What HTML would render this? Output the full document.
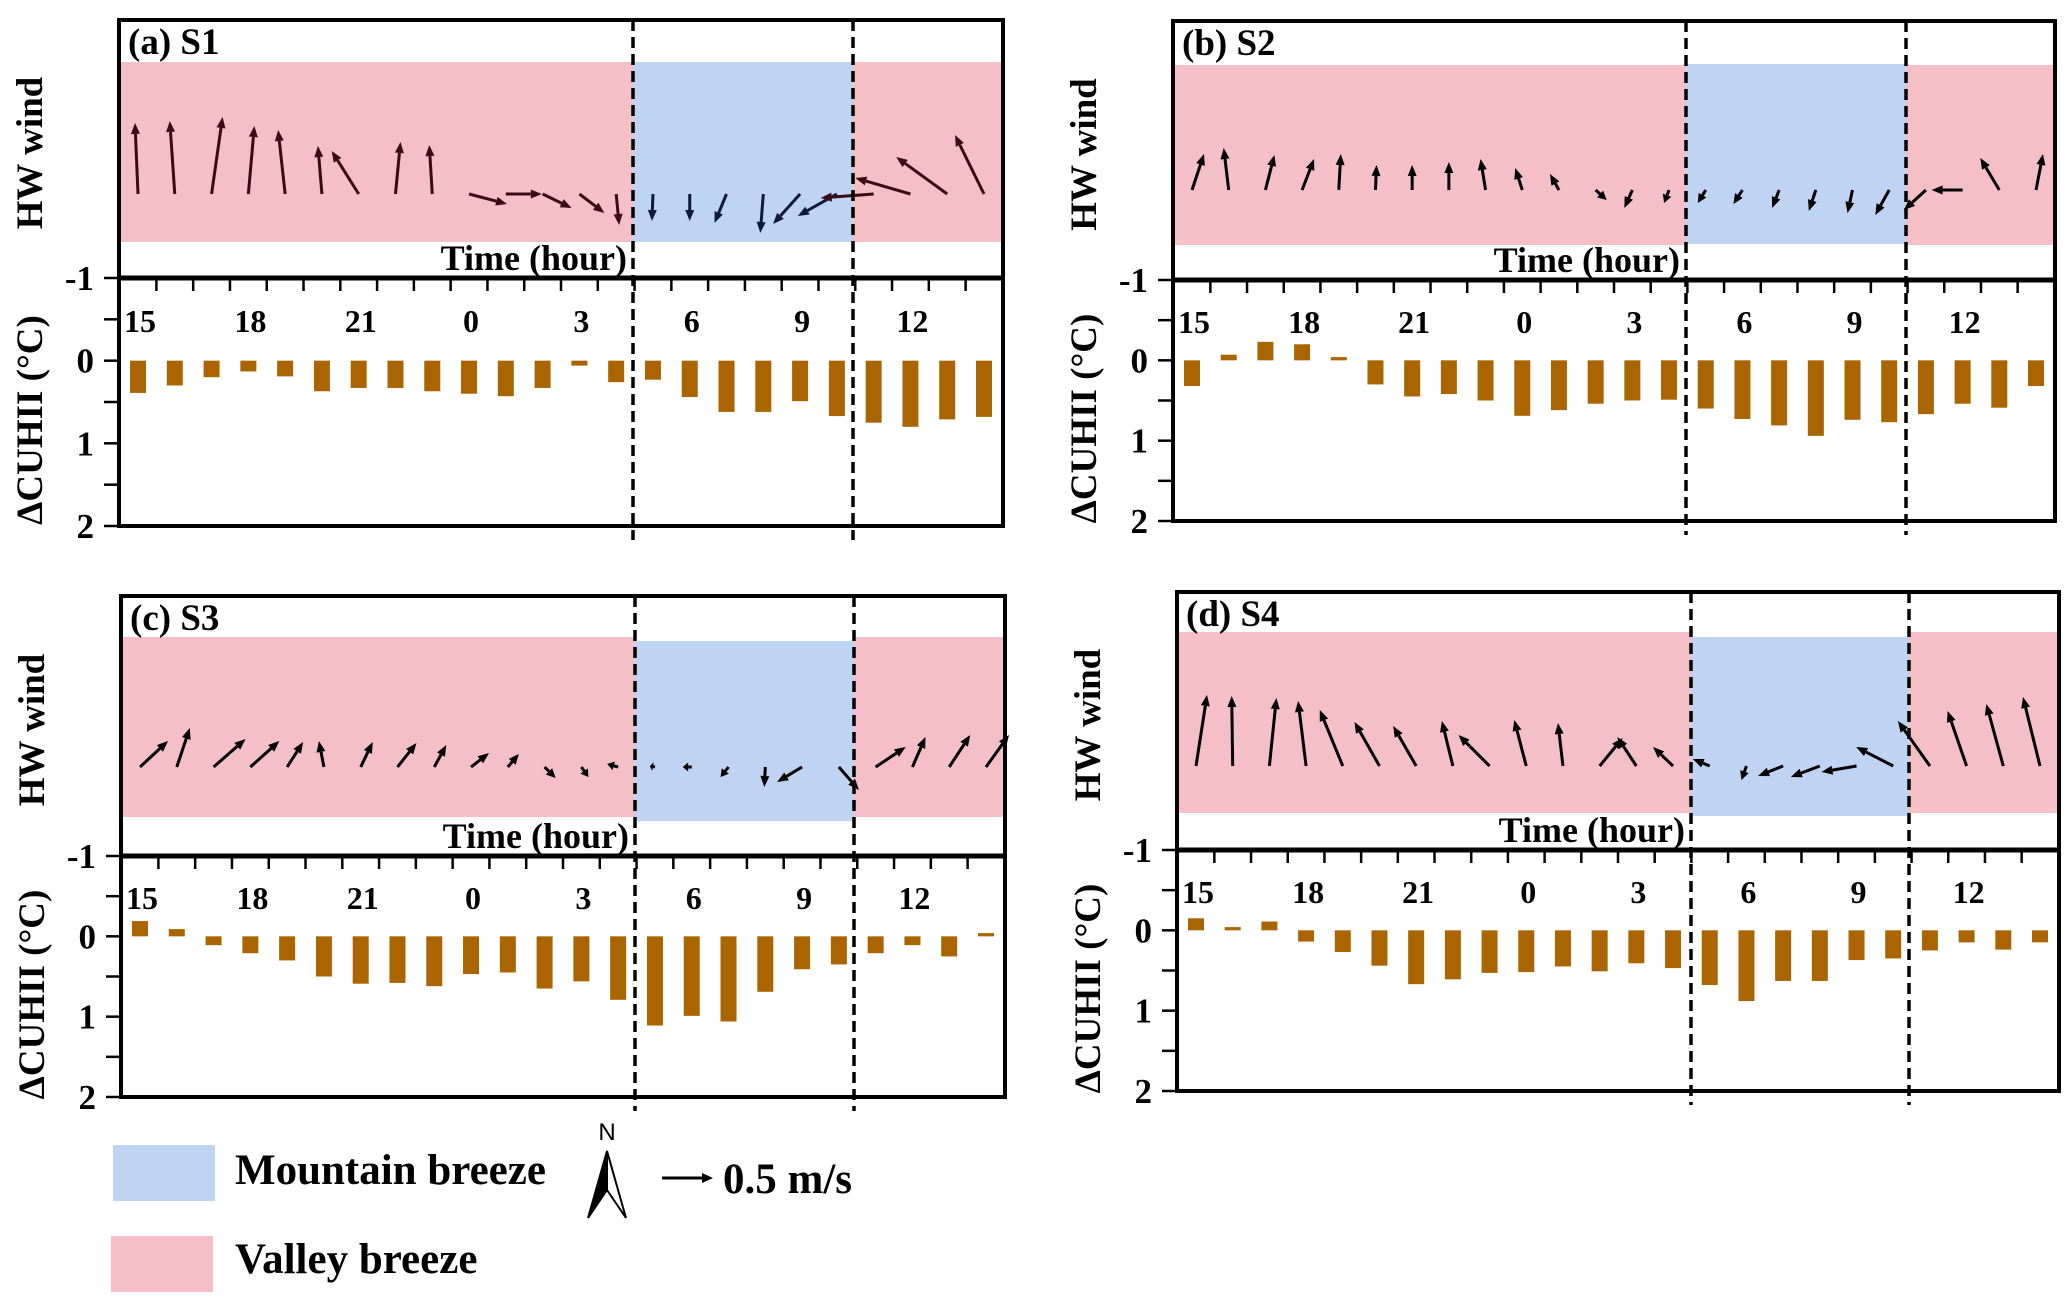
<!DOCTYPE html>
<html><head><meta charset="utf-8"><style>
html,body{margin:0;padding:0;background:#fff;}
svg text{font-family:"Liberation Serif",serif;font-weight:bold;fill:#000;}
</style></head><body>
<svg id="fig" width="2067" height="1302" viewBox="0 0 2067 1302" xmlns="http://www.w3.org/2000/svg">
<g id="panels"></g>
<g id="legend">
  <rect x="113" y="1145" width="102" height="56" fill="#bfd4f2"/>
  <text x="235" y="1184" font-size="43">Mountain breeze</text>
  <rect x="111" y="1236" width="102" height="56" fill="#f4bfc7"/>
  <text x="235" y="1273" font-size="43">Valley breeze</text>
  <g>
    <text x="607" y="1140" font-size="24" text-anchor="middle" style="font-family:'Liberation Sans',sans-serif;font-weight:normal">N</text>
    <polygon points="607,1151 588,1218 607,1190" fill="#000" stroke="#000" stroke-width="2"/>
    <polygon points="607,1151 626,1218 607,1190" fill="#fff" stroke="#000" stroke-width="2"/>
  </g>
  <g>
    <line x1="662" y1="1178" x2="704" y2="1178" stroke="#000" stroke-width="3"/>
    <polygon points="713,1178 702,1173 702,1183" fill="#000"/>
  </g>
  <text x="723" y="1193" font-size="43">0.5 m/s</text>
</g>
</svg>
<script>
const hours = [15,16,17,18,19,20,21,22,23,0,1,2,3,4,5,6,7,8,9,10,11,12,13,14];
const tickLabels = ["15","18","21","0","3","6","9","12"];
const cuhiiS1 = [0.39,0.30,0.20,0.13,0.19,0.37,0.33,0.33,0.37,0.40,0.43,0.33,0.06,0.26,0.23,0.44,0.62,0.62,0.49,0.67,0.75,0.80,0.71,0.68];
const cuhiiS2 = [0.32,-0.07,-0.23,-0.20,-0.04,0.30,0.45,0.42,0.50,0.69,0.62,0.54,0.50,0.49,0.60,0.73,0.81,0.94,0.74,0.77,0.67,0.54,0.59,0.32];
const cuhiiS3 = [-0.19,-0.09,0.11,0.21,0.30,0.50,0.59,0.58,0.62,0.47,0.45,0.65,0.56,0.79,1.11,0.99,1.06,0.69,0.41,0.35,0.21,0.11,0.25,-0.04];
const cuhiiS4 = [-0.15,-0.04,-0.11,0.14,0.27,0.44,0.67,0.61,0.53,0.52,0.45,0.51,0.41,0.47,0.68,0.88,0.63,0.63,0.37,0.35,0.25,0.15,0.24,0.15];
const uS1 = [-0.03,-0.05,0.11,0.06,-0.07,-0.04,-0.27,0.05,-0.03,0.38,0.36,0.29,0.25,0.03,-0.01,0,-0.12,-0.03,-0.27,-0.39,-0.53,-0.55,-0.51,-0.29];
const vS1 = [0.71,0.73,0.77,0.68,0.64,0.48,0.43,0.52,0.49,-0.10,0,-0.14,-0.19,-0.31,-0.27,-0.27,-0.29,-0.39,-0.30,-0.22,-0.04,0.16,0.37,0.59];
const uS2 = [0.12,-0.05,0.09,0.12,0.02,0.01,0,0,-0.05,-0.07,-0.09,0.11,-0.08,-0.05,-0.08,-0.09,-0.07,-0.07,-0.05,-0.14,-0.22,-0.31,-0.19,0.07];
const vS2 = [0.36,0.42,0.35,0.31,0.36,0.25,0.25,0.28,0.31,0.22,0.16,-0.10,-0.18,-0.13,-0.13,-0.14,-0.18,-0.21,-0.23,-0.25,-0.20,0,0.32,0.36];
const uS3 = [0.28,0.13,0.32,0.29,0.16,-0.05,0.12,0.19,0.12,0.18,0.11,0.11,0.07,-0.11,-0.05,-0.09,-0.08,-0.01,-0.25,0.20,0.30,0.13,0.21,0.23];
const vS3 = [0.26,0.39,0.28,0.26,0.25,0.26,0.25,0.24,0.22,0.14,0.13,-0.11,-0.10,0.03,0.01,0,-0.10,-0.20,-0.15,-0.23,0.20,0.30,0.32,0.32];
const uS4 = [0.11,-0.01,0.07,-0.08,-0.23,-0.25,-0.23,-0.11,-0.31,-0.12,-0.05,0.23,-0.19,-0.20,-0.17,-0.05,-0.25,-0.29,-0.35,-0.37,-0.32,-0.19,-0.17,-0.17];
const vS4 = [0.71,0.70,0.68,0.65,0.56,0.44,0.40,0.45,0.31,0.46,0.43,0.28,0.29,0.19,0.07,-0.14,-0.10,-0.11,-0.06,0.19,0.45,0.55,0.62,0.69];

const NS = "http://www.w3.org/2000/svg";
const root = document.getElementById("panels");
function mk(tag, attrs, parent){
  const e = document.createElementNS(NS, tag);
  for (const k in attrs) e.setAttribute(k, attrs[k]);
  parent.appendChild(e);
  return e;
}
const panels = [
  {id:"a", title:"(a) S1", L:119,R:1003,T:20,D:278,B:526,d1:633,d2:853,pk:[62,242],bl:[62,242],ty:194,cu:cuhiiS1,u:uS1,v:vS1,dark:true},
  {id:"b", title:"(b) S2", L:1173,R:2055,T:21,D:280,B:521,d1:1686,d2:1906,pk:[65,245],bl:[64,244],ty:190,cu:cuhiiS2,u:uS2,v:vS2,dark:false},
  {id:"c", title:"(c) S3", L:121,R:1005,T:596,D:856,B:1097,d1:635,d2:854,pk:[637,817],bl:[641,821],ty:767,cu:cuhiiS3,u:uS3,v:vS3,dark:false},
  {id:"d", title:"(d) S4", L:1177,R:2059,T:592,D:850,B:1091,d1:1691,d2:1909,pk:[632,813],bl:[637,816],ty:766,cu:cuhiiS4,u:uS4,v:vS4,dark:false}
];
const PX_PER_MS = 100;
panels.forEach(p => {
  const g = mk("g", {}, root);
  
  
  const unit = (p.B - p.D) / 3;
  const yv = val => p.D + (val + 1) * unit;
  const step = (p.R - p.L - 38) / 23;
  const xi = i => p.L + 19 + i * step;
  const pk1 = mk("rect", {x:p.L, y:p.pk[0], width:p.d1-p.L, height:p.pk[1]-p.pk[0], fill:"#f4bfc7"}, g);
  
  
  const bl = mk("rect", {x:p.d1, y:p.bl[0], width:p.d2-p.d1, height:p.bl[1]-p.bl[0], fill:"#bfd4f2"}, g);
  
  
  const pk2 = mk("rect", {x:p.d2, y:p.pk[0], width:p.R-p.d2, height:p.pk[1]-p.pk[0], fill:"#f4bfc7"}, g);
  
  
  p.cu.forEach((val, i) => {
    const y0 = yv(0), y1 = yv(val);
    const r = mk("rect", {x:xi(i)-8, y:Math.min(y0,y1), width:16, height:Math.max(1.5,Math.abs(y1-y0)), fill:"#aa6500"}, g);
    
    
  });
  p.u.forEach((uu, i) => {
    const vv = p.v[i];
    const x0 = xi(i), y0 = p.ty;
    const dx = uu * PX_PER_MS, dy = -vv * PX_PER_MS;
    const len = Math.hypot(dx, dy);
    if (len < 1) return;
    const inBlue = x0 > p.d1 && x0 < p.d2;
    const col = p.dark ? (inBlue ? "#0e1a3a" : "#3a0b12") : "#000";
    const ux = dx/len, uy = dy/len;
    const hl = Math.min(11, len*0.6), hw = 4.5;
    const bx = x0 + dx - ux*hl, by = y0 + dy - uy*hl;
    const ag = mk("g", {}, g);
    
    
    mk("line", {x1:x0, y1:y0, x2:bx, y2:by, stroke:col, "stroke-width":3}, ag);
    mk("polygon", {points:`${x0+dx},${y0+dy} ${bx-uy*hw},${by+ux*hw} ${bx+uy*hw},${by-ux*hw}`, fill:col}, ag);
  });
  const fr = mk("rect", {x:p.L, y:p.T, width:p.R-p.L, height:p.B-p.T, fill:"none", stroke:"#000", "stroke-width":4}, g);
  
  
  mk("line", {x1:p.L, y1:p.D, x2:p.R, y2:p.D, stroke:"#000", "stroke-width":5}, g);
  for (let i = 0; i < 23; i++) {
    const x = xi(i) + step/2;
    mk("line", {x1:x, y1:p.D, x2:x, y2:p.D+13, stroke:"#000", "stroke-width":2.5}, g);
  }
  tickLabels.forEach((lab, k) => {
    const t = mk("text", {x:xi(k*3)+2, y:p.D+0.52*unit+11, "font-size":32, "text-anchor":"middle"}, g);
    t.textContent = lab;
    
    
  });
  [-1,-0.5,0,0.5,1,1.5,2].forEach(val => {
    mk("line", {x1:p.L-15, y1:yv(val), x2:p.L, y2:yv(val), stroke:"#000", "stroke-width":2.5}, g);
  });
  [-1,0,1,2].forEach(val => {
    const t = mk("text", {x:p.L-25, y:yv(val)+12, "font-size":35, "text-anchor":"end"}, g);
    t.textContent = String(val);
    
    
  });
  [p.d1, p.d2].forEach(x => {
    const l = mk("line", {x1:x, y1:p.T, x2:x, y2:p.B+14, stroke:"#000", "stroke-width":3.5, "stroke-dasharray":"11 6"}, g);
    
    
  });
  const tt = mk("text", {x:p.L+9, y:p.T+34, "font-size":37}, g);
  tt.textContent = p.title;
  
  
  const tl = mk("text", {x:p.d1-6, y:p.D-8, "font-size":36, "text-anchor":"end"}, g);
  tl.textContent = "Time (hour)";
  
  
  const lx = p.L - 89;
  const hw = mk("text", {x:0, y:0, "font-size":37, "text-anchor":"middle", transform:`translate(${lx+12},${(p.T+p.D)/2+4}) rotate(-90)`, "xml:space":"preserve"}, g);
  hw.textContent = "HW  wind";
  
  
  const cu = mk("text", {x:0, y:0, "font-size":37, "text-anchor":"middle", transform:`translate(${lx+12},${(p.D+p.B)/2+18}) rotate(-90)`}, g);
  cu.textContent = "ΔCUHII (°C)";
  
  
});
</script>
</body></html>
